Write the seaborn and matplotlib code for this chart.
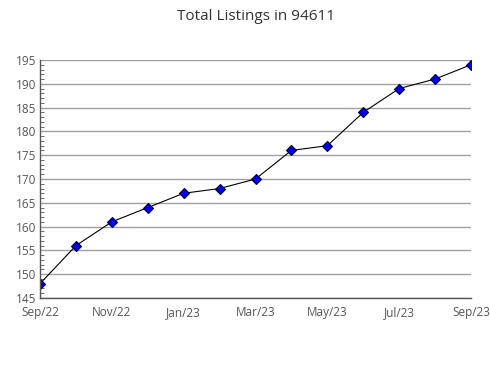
import matplotlib
matplotlib.use("Agg")
import matplotlib.pyplot as plt
import seaborn as sns
import pandas as pd
from matplotlib.ticker import MultipleLocator

months = ["Sep/22", "Oct/22", "Nov/22", "Dec/22", "Jan/23", "Feb/23", "Mar/23",
          "Apr/23", "May/23", "Jun/23", "Jul/23", "Aug/23", "Sep/23"]
listings = [148, 156, 161, 164, 167, 168, 170, 176, 177, 184, 189, 191, 194]

sns.set_style("white")
plt.rcParams['font.family'] = ['Open Sans', 'DejaVu Sans']

df = pd.DataFrame({"idx": range(len(months)), "listings": listings})

fig = plt.figure(figsize=(4.9, 3.8), dpi=100)
ax = fig.add_axes([40/490, 1-298/380, (471-40)/490, (298-60)/380])

sns.lineplot(data=df, x="idx", y="listings", ax=ax, color="black", linewidth=0.8,
             marker="D", markersize=5.5, markerfacecolor="#0000ee",
             markeredgecolor="#000033", markeredgewidth=0.8)

ax.set_xlim(0, len(months) - 1)
ax.set_ylim(145, 195)
ax.yaxis.set_major_locator(MultipleLocator(5))
ax.yaxis.set_minor_locator(MultipleLocator(1))
ax.set_xticks(range(len(months)))
ax.set_xticklabels([m if i % 2 == 0 else "" for i, m in enumerate(months)])
ax.grid(axis="y", which="major", color="#a0a0a0", linewidth=1)
ax.set_axisbelow(True)
for s in ["top", "right"]:
    ax.spines[s].set_visible(False)
for s in ["left", "bottom"]:
    ax.spines[s].set_color("#555555")
    ax.spines[s].set_linewidth(1)
ax.tick_params(axis="x", which="major", direction="out", length=5, width=0.8,
               color="#555555", labelsize=8.5, labelcolor="#555555", pad=1)
ax.tick_params(axis="y", which="minor", direction="in", length=3, width=0.6,
               color="#555555", left=True)
ax.tick_params(axis="y", which="major", length=0, pad=3, labelsize=8.5,
               labelcolor="#555555")
ax.set_xlabel("")
ax.set_ylabel("")
ax.set_title("Total Listings in 94611", fontsize=11, color="#333333", pad=29)

fig.savefig("out.png", dpi=100)
